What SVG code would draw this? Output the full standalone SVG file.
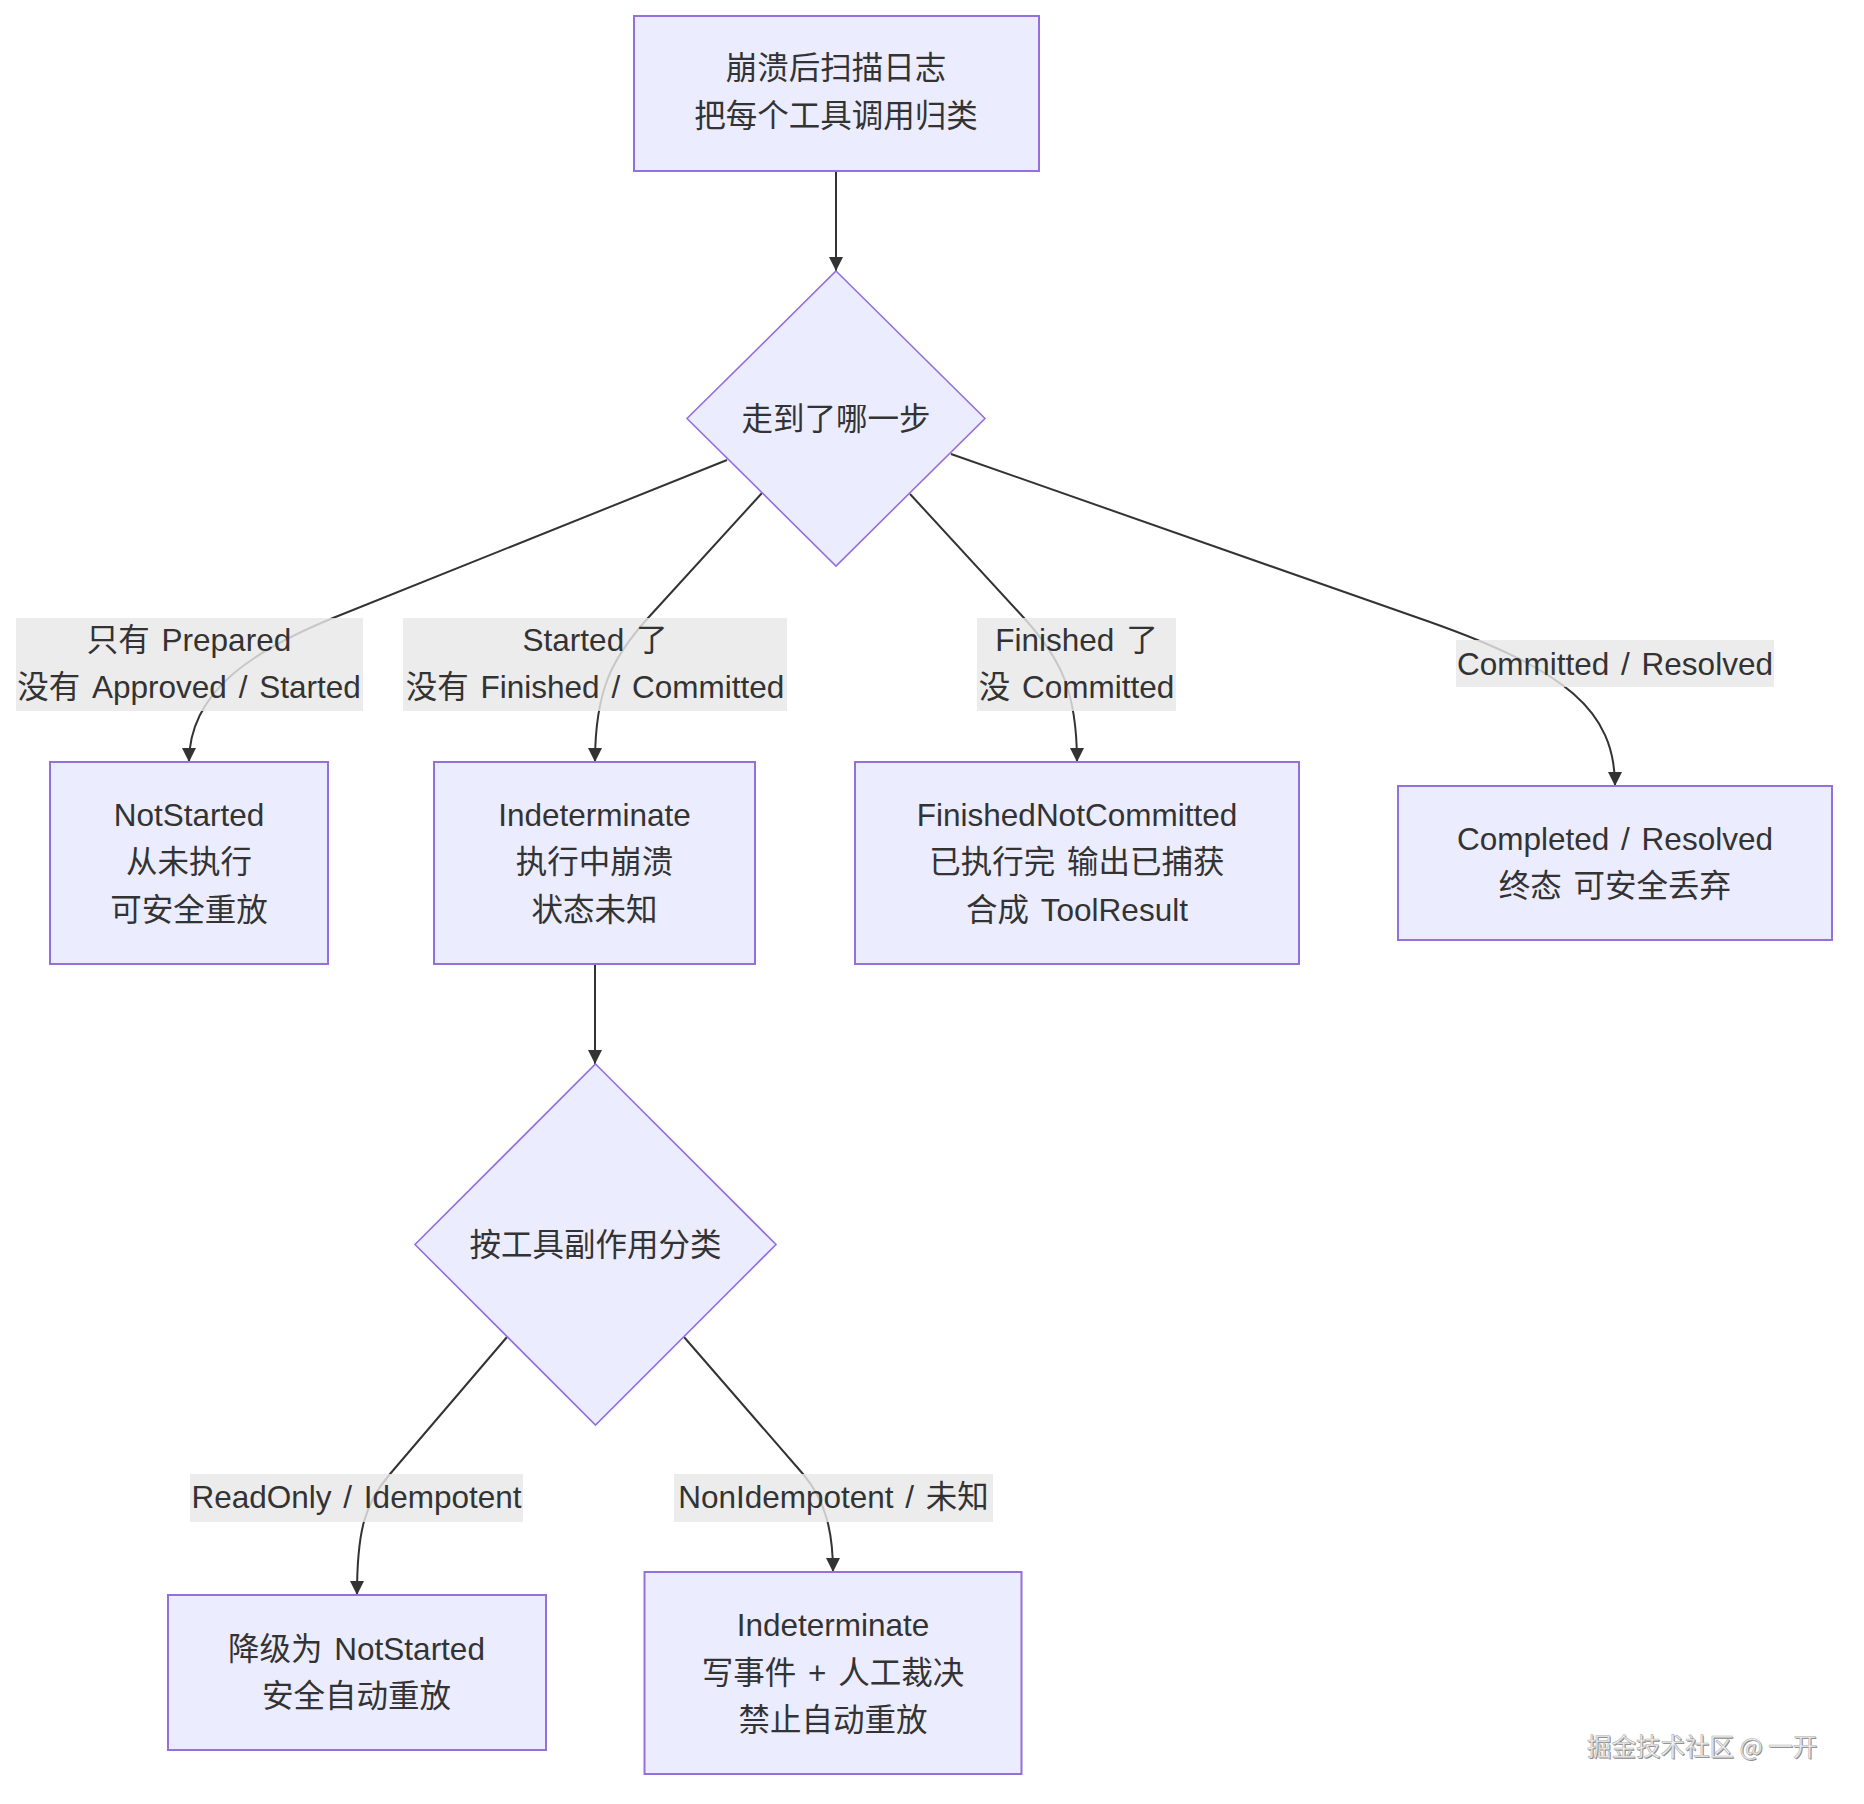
<svg xmlns="http://www.w3.org/2000/svg" width="1864" height="1804" viewBox="0 0 1864 1804">
<defs>
<style>
.node rect,.node polygon{fill:#ECECFF;stroke:#9370DB;stroke-width:2}
.node polygon{stroke-width:1.6}
.t{font-family:"Liberation Sans","Noto Sans CJK SC",sans-serif;font-size:31.5px;fill:#333;text-anchor:middle;dominant-baseline:central;word-spacing:3px}
.edge{fill:none;stroke:#333;stroke-width:2}
.lbl rect{fill:#e8e8e8;fill-opacity:0.82}
.wm{font-family:"Noto Sans CJK SC","Liberation Sans",sans-serif;font-size:24.5px}
</style>
<marker id="arrow" viewBox="0 0 10 10" refX="10" refY="5" markerWidth="15" markerHeight="14" markerUnits="userSpaceOnUse" orient="auto">
<path d="M0,0 L10,5 L0,10 z" fill="#333"/>
</marker>
</defs>
<rect width="1864" height="1804" fill="#fff"/>
<g id="connectors">
<path class="edge" marker-end="url(#arrow)" d="M836,171 L836,271"/>
<path class="edge" marker-end="url(#arrow)" d="M727,460 L333,618 C255,650 189,690 189,762"/>
<path class="edge" marker-end="url(#arrow)" d="M762,493 L648,618 C612,658 595,690 595,762"/>
<path class="edge" marker-end="url(#arrow)" d="M910,494 L1024,618 C1060,658 1077,690 1077,762"/>
<path class="edge" marker-end="url(#arrow)" d="M951,454 L1430,622 C1565,670 1615,710 1615,786"/>
<path class="edge" marker-end="url(#arrow)" d="M595,964 L595,1064"/>
<path class="edge" marker-end="url(#arrow)" d="M507,1337 L390,1474 C365,1503 357,1530 357,1595"/>
<path class="edge" marker-end="url(#arrow)" d="M684,1337 L803,1474 C825,1500 833,1530 833,1572"/>
</g>
<g id="edge-labels">
<g class="lbl"><rect x="16" y="618" width="347" height="93"/><text class="t" x="189" y="640">只有 Prepared</text><text class="t" x="189" y="687">没有 Approved / Started</text></g>
<g class="lbl"><rect x="403" y="618" width="384" height="93"/><text class="t" x="595" y="640">Started 了</text><text class="t" x="595" y="687">没有 Finished / Committed</text></g>
<g class="lbl"><rect x="977" y="618" width="199" height="93"/><text class="t" x="1076.5" y="640">Finished 了</text><text class="t" x="1076.5" y="687">没 Committed</text></g>
<g class="lbl"><rect x="1456" y="640" width="318" height="47"/><text class="t" x="1615" y="663.5">Committed / Resolved</text></g>
<g class="lbl"><rect x="190" y="1474" width="333" height="48"/><text class="t" x="356.5" y="1497">ReadOnly / Idempotent</text></g>
<g class="lbl"><rect x="674" y="1474" width="319" height="48"/><text class="t" x="833.5" y="1497">NonIdempotent / 未知</text></g>
</g>
<g id="start" class="node"><rect x="634" y="16" width="405" height="155"/><text class="t" x="836" y="68">崩溃后扫描日志</text><text class="t" x="836" y="115.5">把每个工具调用归类</text></g>
<g id="step" class="node"><polygon points="836,271 985,418.5 836,566 687,418.5"/><text class="t" x="836" y="418.5">走到了哪一步</text></g>
<g id="notstarted" class="node"><rect x="50" y="762" width="278" height="202"/><text class="t" x="189" y="815">NotStarted</text><text class="t" x="189" y="862">从未执行</text><text class="t" x="189" y="909.5">可安全重放</text></g>
<g id="indeterminate" class="node"><rect x="434" y="762" width="321" height="202"/><text class="t" x="594.5" y="815">Indeterminate</text><text class="t" x="594.5" y="862">执行中崩溃</text><text class="t" x="594.5" y="909.5">状态未知</text></g>
<g id="finishednotcommitted" class="node"><rect x="855" y="762" width="444" height="202"/><text class="t" x="1077" y="815">FinishedNotCommitted</text><text class="t" x="1077" y="862">已执行完 输出已捕获</text><text class="t" x="1077" y="909.5">合成 ToolResult</text></g>
<g id="completed" class="node"><rect x="1398" y="786" width="434" height="154"/><text class="t" x="1615" y="838.5">Completed / Resolved</text><text class="t" x="1615" y="886">终态 可安全丢弃</text></g>
<g id="sideeffect" class="node"><polygon points="595.5,1064 776,1244.5 595.5,1425 415,1244.5"/><text class="t" x="595.5" y="1244.5">按工具副作用分类</text></g>
<g id="downgrade" class="node"><rect x="168" y="1595" width="378" height="155"/><text class="t" x="356.5" y="1649">降级为 NotStarted</text><text class="t" x="356.5" y="1696">安全自动重放</text></g>
<g id="indeterminate2" class="node"><rect x="644.5" y="1572" width="377" height="202"/><text class="t" x="833" y="1625">Indeterminate</text><text class="t" x="833" y="1672.5">写事件 + 人工裁决</text><text class="t" x="833" y="1720">禁止自动重放</text></g>
<g id="watermark">
<text class="wm" x="1588" y="1757" fill="#888">掘金技术社区 @ 一开</text>
<text class="wm" x="1587" y="1756" fill="#f2f2f2" stroke="#b0b0b0" stroke-width="0.6">掘金技术社区 @ 一开</text>
</g>
</svg>
